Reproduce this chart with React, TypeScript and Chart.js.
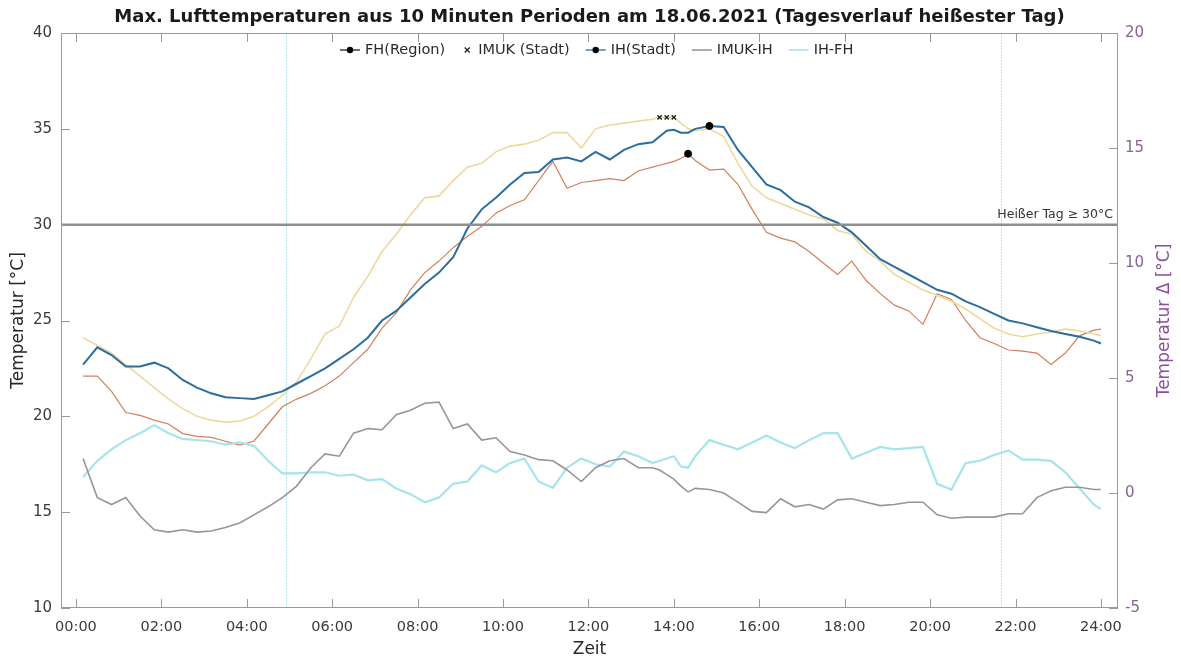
import React, { useEffect, useRef } from 'react';
import { Chart, registerables } from 'chart.js';

Chart.register(...registerables);

// ---- data (10-minute maxima) ----
const times = [
  '00:10', '00:30', '00:50', '01:10', '01:30', '01:50', '02:10', '02:30', '02:50', '03:10',
  '03:30', '03:50', '04:10', '04:30', '04:50', '05:10', '05:30', '05:50', '06:10', '06:30',
  '06:50', '07:10', '07:30', '07:50', '08:10', '08:30', '08:50', '09:10', '09:30', '09:50',
  '10:10', '10:30', '10:50', '11:10', '11:30', '11:50', '12:10', '12:30', '12:50', '13:10',
  '13:30', '13:40', '13:50', '14:00', '14:10', '14:20', '14:30', '14:50', '15:10', '15:30',
  '15:50', '16:10', '16:30', '16:50', '17:10', '17:30', '17:50', '18:10', '18:30', '18:50',
  '19:10', '19:30', '19:50', '20:10', '20:30', '20:50', '21:10', '21:30', '21:50', '22:10',
  '22:30', '22:50', '23:10', '23:30', '23:50', '24:00',
];

const fhRegion = [
  22.1, 22.1, 21.3, 20.2, 20.05, 19.8, 19.6, 19.1, 18.95, 18.9,
  18.7, 18.5, 18.7, 19.6, 20.5, 20.9, 21.2, 21.6, 22.1, 22.8,
  23.5, 24.6, 25.4, 26.6, 27.5, 28.1, 28.8, 29.4, 29.9, 30.6,
  31.0, 31.3, 32.3, 33.3, 31.9, 32.2, 32.3, 32.4, 32.3, 32.8,
  33.0, 33.1, 33.2, 33.3, 33.45, 33.7, 33.35, 32.85, 32.9, 32.1,
  30.8, 29.6, 29.3, 29.1, 28.6, 28.0, 27.4, 28.1, 27.1, 26.4,
  25.8, 25.5, 24.8, 26.4, 26.1, 25.0, 24.1, 23.8, 23.46, 23.4,
  23.3, 22.7, 23.3, 24.2, 24.5, 24.55,
];

const imukStadt = [
  24.1, 23.7, 23.3, 22.7, 22.1, 21.5, 20.9, 20.4, 20.0, 19.8,
  19.7, 19.75, 20.0, 20.5, 21.1, 21.8, 23.0, 24.3, 24.7, 26.2,
  27.3, 28.6, 29.5, 30.5, 31.4, 31.5, 32.3, 33.0, 33.2, 33.8,
  34.1, 34.2, 34.4, 34.8, 34.8, 34.0, 35.0, 35.2, 35.3, 35.4,
  35.5, 35.6, 35.6, 35.6, 35.3, 35.0, 34.9, 35.0, 34.6, 33.2,
  32.0, 31.4, 31.1, 30.8, 30.5, 30.3, 29.7, 29.5, 28.6, 28.1,
  27.4, 27.0, 26.6, 26.3, 26.0, 25.6, 25.1, 24.6, 24.3, 24.15,
  24.3, 24.4, 24.55, 24.45, 24.3, 24.2,
];

const ihStadt = [
  22.7, 23.6, 23.2, 22.6, 22.6, 22.8, 22.5, 21.9, 21.5, 21.2,
  21.0, 20.95, 20.9, 21.1, 21.3, 21.7, 22.1, 22.5, 23.0, 23.5,
  24.1, 25.0, 25.5, 26.2, 26.9, 27.5, 28.3, 29.8, 30.8, 31.4,
  32.1, 32.7, 32.75, 33.4, 33.5, 33.3, 33.8, 33.4, 33.9, 34.2,
  34.3, 34.6, 34.9, 34.95, 34.8, 34.8, 35.0, 35.15, 35.1, 33.9,
  33.0, 32.1, 31.8, 31.2, 30.9, 30.4, 30.1, 29.6, 28.9, 28.2,
  27.8, 27.4, 27.0, 26.6, 26.4, 26.0, 25.7, 25.35, 25.0, 24.85,
  24.65, 24.45, 24.3, 24.15, 23.95, 23.8,
];

const imukMinusIh = [
  1.5, -0.2, -0.5, -0.2, -1.0, -1.6, -1.7, -1.6, -1.7, -1.65,
  -1.5, -1.3, -0.95, -0.6, -0.2, 0.3, 1.1, 1.7, 1.6, 2.6,
  2.8, 2.75, 3.4, 3.6, 3.9, 3.95, 2.8, 3.0, 2.3, 2.4,
  1.8, 1.65, 1.45, 1.4, 1.0, 0.5, 1.1, 1.4, 1.5, 1.1,
  1.1, 1.0, 0.8, 0.6, 0.3, 0.05, 0.2, 0.15, 0.0, -0.4,
  -0.8, -0.85, -0.25, -0.6, -0.5, -0.7, -0.3, -0.25, -0.4, -0.55,
  -0.5, -0.4, -0.4, -0.95, -1.1, -1.05, -1.05, -1.05, -0.9, -0.9,
  -0.2, 0.1, 0.25, 0.25, 0.15, 0.15,
];

const ihMinusFh = [
  0.7, 1.4, 1.9, 2.3, 2.6, 2.95, 2.6, 2.35, 2.3, 2.25,
  2.1, 2.2, 2.05, 1.4, 0.85, 0.85, 0.9, 0.9, 0.75, 0.8,
  0.55, 0.6, 0.2, -0.05, -0.4, -0.2, 0.4, 0.5, 1.2, 0.9,
  1.3, 1.5, 0.5, 0.22, 1.1, 1.5, 1.25, 1.15, 1.8, 1.6,
  1.3, 1.4, 1.5, 1.6, 1.15, 1.1, 1.6, 2.3, 2.1, 1.9,
  2.2, 2.5, 2.2, 1.95, 2.3, 2.6, 2.6, 1.5, 1.75, 2.0,
  1.9, 1.95, 2.0, 0.4, 0.15, 1.3, 1.4, 1.65, 1.85, 1.45,
  1.45, 1.4, 0.9, 0.2, -0.5, -0.7,
];

// maxima markers
const fhMaxTimes = ['14:20'];
const fhMaxValues = [33.7];
const imukMaxTimes = ['13:40', '13:50', '14:00'];
const imukMaxValues = [35.6, 35.6, 35.6];
const ihMaxTimes = ['14:50'];
const ihMaxValues = [35.15];

// reference lines
const hotDayThreshold = [30];
const hotDayLabel = 'Heißer Tag ≥ 30°C';
const dayMarkTimes = ['04:55', '21:40'];

// axis ticks
const xTickLabels = ['00:00', '02:00', '04:00', '06:00', '08:00', '10:00', '12:00', '14:00', '16:00', '18:00', '20:00', '22:00', '24:00'];
const leftTicks = [10, 15, 20, 25, 30, 35, 40];
const rightTicks = [-5, 0, 5, 10, 15, 20];

const titleText = 'Max. Lufttemperaturen aus 10 Minuten Perioden am 18.06.2021 (Tagesverlauf heißester Tag)';
const legendLabels = ['FH(Region)', 'IMUK (Stadt)', 'IH(Stadt)', 'IMUK-IH', 'IH-FH'];

// ---- helpers ----
const toHours = (t: string) => {
  const [h, m] = t.split(':').map(Number);
  return h + m / 60;
};
const pts = (ts: string[], vals: number[]) => vals.map((v, i) => ({ x: toHours(ts[i]), y: v }));

const FONT = '"DejaVu Sans", "Liberation Sans", sans-serif';
const C_FH = '#d27f5c';
const C_IMUK = '#efd79e';
const C_IH = '#2b6d9d';
const C_DIFF1 = '#9d9299';
const C_DIFF2 = '#a6e4ec';
const C_FRAME = '#9a9a9a';
const C_PURPLE = '#8b4d9e';

export default function App() {
  const ref = useRef<HTMLCanvasElement>(null);

  useEffect(() => {
    const canvas = ref.current;
    if (!canvas) return;

    const decor = {
      id: 'decor',
      beforeDatasetsDraw(chart: any) {
        const { ctx, chartArea: a, scales } = chart;
        ctx.save();
        ctx.strokeStyle = '#b3e5ec';
        ctx.lineWidth = 1;
        ctx.setLineDash([2, 1]);
        for (const t of dayMarkTimes) {
          const x = Math.round(scales.x.getPixelForValue(toHours(t))) + 0.5;
          ctx.beginPath();
          ctx.moveTo(x, a.top);
          ctx.lineTo(x, a.bottom);
          ctx.stroke();
        }
        ctx.restore();
      },
      afterDatasetsDraw(chart: any) {
        const { ctx, chartArea: a, scales } = chart;
        ctx.save();
        const y = scales.y.getPixelForValue(hotDayThreshold[0]);
        ctx.strokeStyle = '#8f8f8f';
        ctx.lineWidth = 2.5;
        ctx.beginPath();
        ctx.moveTo(a.left, y);
        ctx.lineTo(a.right, y);
        ctx.stroke();
        ctx.fillStyle = '#333333';
        ctx.font = `12.5px ${FONT}`;
        ctx.textAlign = 'right';
        ctx.textBaseline = 'bottom';
        ctx.fillText(hotDayLabel, a.right - 5, y - 4);
        ctx.restore();
      },
      afterDraw(chart: any) {
        const { ctx, chartArea: a, scales } = chart;
        ctx.save();
        // frame
        ctx.strokeStyle = C_FRAME;
        ctx.lineWidth = 1;
        ctx.strokeRect(a.left + 0.5, a.top + 0.5, a.right - a.left - 1, a.bottom - a.top - 1);
        // inward tick marks
        const TL = 9;
        ctx.beginPath();
        for (const lbl of xTickLabels) {
          const x = Math.round(scales.x.getPixelForValue(toHours(lbl))) + 0.5;
          ctx.moveTo(x, a.bottom);
          ctx.lineTo(x, a.bottom - TL);
          ctx.moveTo(x, a.top);
          ctx.lineTo(x, a.top + TL);
        }
        for (const v of leftTicks) {
          const y = Math.round(scales.y.getPixelForValue(v)) + 0.5;
          ctx.moveTo(a.left, y);
          ctx.lineTo(a.left + TL, y);
        }
        for (const v of rightTicks) {
          const y = Math.round(scales.y2.getPixelForValue(v)) + 0.5;
          ctx.moveTo(a.right, y);
          ctx.lineTo(a.right - TL, y);
        }
        ctx.stroke();

        // title
        ctx.fillStyle = '#1a1a1a';
        ctx.font = `bold 18px ${FONT}`;
        ctx.textAlign = 'center';
        ctx.textBaseline = 'middle';
        ctx.fillText(titleText, (a.left + a.right) / 2, 17);

        // right axis title (reads bottom to top)
        ctx.save();
        ctx.translate(1165, (a.top + a.bottom) / 2);
        ctx.rotate(-Math.PI / 2);
        ctx.fillStyle = C_PURPLE;
        ctx.font = `17px ${FONT}`;
        ctx.textAlign = 'center';
        ctx.textBaseline = 'middle';
        ctx.fillText('Temperatur Δ [°C]', 0, 0);
        ctx.restore();

        // legend
        ctx.font = `14.5px ${FONT}`;
        ctx.textAlign = 'left';
        ctx.textBaseline = 'middle';
        const ly = 50;
        let x = 340;
        const kinds = [
          { color: '#222222', dot: true, line: true },
          { color: '#222222', cross: true, line: false },
          { color: C_IH, dot: true, line: true },
          { color: C_DIFF1, line: true },
          { color: C_DIFF2, line: true },
        ];
        legendLabels.forEach((label, i) => {
          const k: any = kinds[i];
          const sw = k.line ? 20 : 12;
          if (k.line) {
            ctx.strokeStyle = k.color;
            ctx.lineWidth = i >= 3 ? 1.6 : 1.3;
            ctx.beginPath();
            ctx.moveTo(x, ly);
            ctx.lineTo(x + sw, ly);
            ctx.stroke();
          }
          if (k.dot) {
            ctx.fillStyle = '#000';
            ctx.beginPath();
            ctx.arc(x + sw / 2, ly, 3.2, 0, Math.PI * 2);
            ctx.fill();
          }
          if (k.cross) {
            ctx.strokeStyle = '#222';
            ctx.lineWidth = 1.3;
            const cx = x + sw / 2;
            ctx.beginPath();
            ctx.moveTo(cx - 2.5, ly - 2.5);
            ctx.lineTo(cx + 2.5, ly + 2.5);
            ctx.moveTo(cx + 2.5, ly - 2.5);
            ctx.lineTo(cx - 2.5, ly + 2.5);
            ctx.stroke();
          }
          ctx.fillStyle = '#2a2a2a';
          ctx.fillText(label, x + sw + 5, ly);
          x += sw + 5 + ctx.measureText(label).width + 16;
        });
        ctx.restore();
      },
    };

    const line = (label: string, data: number[], color: string, width: number, axis: string, order: number) => ({
      label,
      data: pts(times, data),
      borderColor: color,
      backgroundColor: color,
      borderWidth: width,
      pointRadius: 0,
      tension: 0,
      fill: false,
      yAxisID: axis,
      order,
    });

    const chart = new Chart(canvas, {
      type: 'line',
      data: {
        datasets: [
          line(legendLabels[0], fhRegion, C_FH, 1.2, 'y', 6),
          line(legendLabels[1], imukStadt, C_IMUK, 1.6, 'y', 5),
          line(legendLabels[2], ihStadt, C_IH, 2, 'y', 2),
          line(legendLabels[3], imukMinusIh, C_DIFF1, 1.6, 'y2', 3),
          line(legendLabels[4], ihMinusFh, C_DIFF2, 2.2, 'y2', 4),
          {
            label: 'FH max', data: pts(fhMaxTimes, fhMaxValues), showLine: false,
            pointRadius: 3.5, pointBackgroundColor: '#000', pointBorderColor: '#000', yAxisID: 'y', order: 0,
          } as any,
          {
            label: 'IH max', data: pts(ihMaxTimes, ihMaxValues), showLine: false,
            pointRadius: 3.5, pointBackgroundColor: '#000', pointBorderColor: '#000', yAxisID: 'y', order: 0,
          } as any,
          {
            label: 'IMUK max', data: pts(imukMaxTimes, imukMaxValues), showLine: false,
            pointStyle: 'crossRot', pointRadius: 3, pointBorderWidth: 1.4,
            pointBorderColor: '#222', pointBackgroundColor: '#222', yAxisID: 'y', order: 0,
          } as any,
        ],
      },
      options: {
        responsive: false,
        animation: false,
        devicePixelRatio: 1,
        layout: { padding: { top: 33, left: 0, right: 0, bottom: 0 } },
        plugins: {
          legend: { display: false },
          title: { display: false },
          tooltip: { enabled: false },
        },
        scales: {
          x: {
            type: 'linear',
            min: -0.35,
            max: 24.4,
            grid: { display: false, drawTicks: false },
            border: { display: false },
            afterBuildTicks: (s: any) => {
              s.ticks = xTickLabels.map((l) => ({ value: toHours(l) }));
            },
            afterFit: (s: any) => {
              s.height = 55;
            },
            ticks: {
              autoSkip: false,
              maxRotation: 0,
              padding: 11,
              color: '#3a3a3a',
              font: { family: FONT, size: 14.5 },
              callback: (_v: any, i: number) => xTickLabels[i],
            },
            title: {
              display: true,
              text: 'Zeit',
              color: '#262626',
              font: { family: FONT, size: 17 },
              padding: { top: 0, bottom: 3 },
            },
          },
          y: {
            type: 'linear',
            position: 'left',
            min: 10,
            max: 40,
            grid: { display: false, drawTicks: false },
            border: { display: false },
            afterBuildTicks: (s: any) => {
              s.ticks = leftTicks.map((v) => ({ value: v }));
            },
            afterFit: (s: any) => {
              s.width = 61;
            },
            ticks: {
              padding: 9,
              color: '#3a3a3a',
              font: { family: FONT, size: 15 },
            },
            title: {
              display: true,
              text: 'Temperatur [°C]',
              color: '#262626',
              font: { family: FONT, size: 17 },
              padding: { top: 8, bottom: 0 },
            },
          },
          y2: {
            type: 'linear',
            position: 'right',
            min: -5,
            max: 20,
            grid: { display: false, drawTicks: false },
            border: { display: false },
            afterBuildTicks: (s: any) => {
              s.ticks = rightTicks.map((v) => ({ value: v }));
            },
            afterFit: (s: any) => {
              s.width = 63;
            },
            ticks: {
              padding: 7,
              color: '#8a6294',
              font: { family: FONT, size: 15 },
            },
            title: { display: false },
          },
        },
      } as any,
      plugins: [decor],
    });

    return () => chart.destroy();
  }, []);

  return (
    <div style={{ position: 'fixed', left: 0, top: 0, width: 1181, height: 663, background: '#ffffff' }}>
      <canvas ref={ref} width={1181} height={663} style={{ display: 'block', width: 1181, height: 663 }} />
    </div>
  );
}
